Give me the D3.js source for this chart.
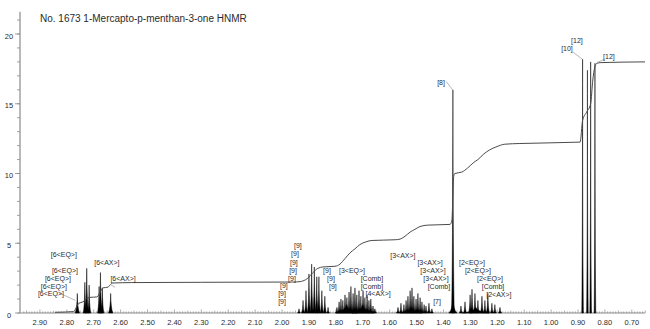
<!DOCTYPE html>
<html>
<head>
<meta charset="utf-8">
<script src="https://cdn.jsdelivr.net/npm/d3@7"></script>
<style>
  html, body { margin: 0; padding: 0; background: #ffffff; }
  svg { display: block; }
  text { font-family: "Liberation Sans", Arial, sans-serif; }
</style>
</head>
<body>
<svg id="chart" width="650" height="329"></svg>
<script>
// ---------------- DATA ----------------
const title = "No. 1673 1-Mercapto-p-menthan-3-one HNMR";

const xTickLabels = ["2.90","2.80","2.70","2.60","2.50","2.40","2.30","2.20","2.10","2.00","1.90","1.80","1.70","1.60","1.50","1.40","1.30","1.20","1.10","1.00","0.90","0.80","0.70"];
const yTickLabels = ["0","5","10","15","20"];

// peak lines: chemical shift (ppm), height, half-width at base (ppm)
const peakPpm = [
  // H6 group
  2.761, 2.733, 2.726, 2.717, 2.680, 2.675, 2.668, 2.637,
  // 1.9 multiplet
  1.937, 1.922, 1.911, 1.900, 1.890, 1.880, 1.871, 1.863, 1.852, 1.841, 1.829,
  // 1.75 group
  1.796, 1.788, 1.781, 1.774, 1.766, 1.759, 1.751, 1.744, 1.736, 1.729, 1.722, 1.714, 1.707, 1.699, 1.692, 1.684, 1.677, 1.670, 1.662, 1.655,
  1.760, 1.700,
  // 1.5 group
  1.569, 1.558, 1.547, 1.539, 1.532, 1.524, 1.517, 1.510, 1.502, 1.495, 1.487, 1.480, 1.472, 1.465, 1.454, 1.443,
  1.520,
  // [8]
  1.365, 1.365,
  // 1.3-1.2 group
  1.335, 1.320, 1.301, 1.294, 1.283, 1.272, 1.257, 1.246, 1.235, 1.220, 1.209, 1.190,
  1.280,
  // methyls
  0.883, 0.865, 0.853, 0.837
];
const peakHeight = [
  1.40, 2.20, 3.20, 2.00, 1.90, 2.90, 1.80, 1.40,
  0.30, 0.90, 1.60, 2.80, 3.50, 3.30, 2.60, 2.60, 1.60, 1.20, 0.40,
  0.40, 0.80, 1.00, 0.90, 1.30, 1.10, 1.50, 1.90, 1.40, 1.80, 1.30, 1.60, 1.20, 1.60, 1.10, 1.30, 0.90, 1.00, 0.50, 0.30,
  0.60, 0.60,
  0.40, 0.70, 0.60, 0.90, 1.20, 1.60, 1.80, 1.20, 1.00, 1.40, 1.10, 0.80, 0.60, 0.50, 0.70, 0.30,
  0.40,
  16.0, 1.0,
  0.50, 0.80, 1.30, 1.70, 1.40, 0.90, 1.20, 0.90, 1.40, 0.70, 0.60, 0.40,
  0.40,
  18.2, 17.4, 18.0, 17.9
];
const peakWidth = [
  0.008, 0.006, 0.007, 0.006, 0.006, 0.007, 0.006, 0.008,
  0.005, 0.006, 0.006, 0.006, 0.006, 0.006, 0.006, 0.006, 0.006, 0.006, 0.005,
  0.006, 0.006, 0.006, 0.006, 0.006, 0.006, 0.006, 0.006, 0.006, 0.006, 0.006, 0.006, 0.006, 0.006, 0.006, 0.006, 0.006, 0.006, 0.006, 0.006,
  0.040, 0.040,
  0.006, 0.006, 0.006, 0.006, 0.006, 0.006, 0.006, 0.006, 0.006, 0.006, 0.006, 0.006, 0.006, 0.006, 0.006, 0.005,
  0.040,
  0.005, 0.015,
  0.006, 0.006, 0.006, 0.006, 0.006, 0.006, 0.006, 0.006, 0.006, 0.006, 0.006, 0.006,
  0.050,
  0.003, 0.003, 0.003, 0.003
];

// integral curve: ppm and cumulative value
const integralPpm = [2.844, 2.774, 2.765, 2.755, 2.740, 2.728, 2.714, 2.688, 2.676, 2.666, 2.647, 2.640, 2.629, 2.560, 2.300, 1.960, 1.933, 1.922, 1.904, 1.885, 1.867, 1.848, 1.803, 1.785, 1.766, 1.748, 1.729, 1.711, 1.688, 1.666, 1.580, 1.561, 1.543, 1.524, 1.506, 1.487, 1.458, 1.376, 1.369, 1.362, 1.358, 1.332, 1.310, 1.287, 1.272, 1.250, 1.228, 1.205, 1.172, 1.116, 0.892, 0.883, 0.868, 0.853, 0.845, 0.838, 0.830, 0.815, 0.651];
const integralVal = [0.05, 0.10, 0.40, 0.70, 0.80, 1.00, 1.12, 1.15, 1.50, 1.80, 1.85, 2.00, 2.15, 2.18, 2.20, 2.22, 2.25, 2.30, 2.50, 2.90, 3.20, 3.30, 3.35, 3.50, 3.90, 4.30, 4.60, 4.90, 5.10, 5.20, 5.25, 5.30, 5.50, 5.80, 6.00, 6.20, 6.30, 6.35, 6.60, 9.80, 10.00, 10.10, 10.40, 10.80, 11.00, 11.40, 11.70, 11.90, 12.10, 12.15, 12.25, 13.80, 14.40, 15.00, 16.70, 17.60, 17.90, 17.95, 18.00];

// annotation labels with their anchor (ppm, value)
const labelText = [
  "[6<EQ>]", "[6<EQ>]", "[6<EQ>]", "[6<EQ>]", "[6<EQ>]", "[6<AX>]", "[6<AX>]",
  "[9]", "[9]", "[9]", "[9]", "[9]", "[9]", "[9]", "[9]", "[9]", "[9]", "[9]",
  "[3<EQ>]", "[Comb]", "[Comb]", "[4<AX>]",
  "[3<AX>]", "[3<AX>]", "[3<AX>]", "[3<AX>]", "[Comb]", "[7]",
  "[2<EQ>]", "[2<EQ>]", "[2<EQ>]", "[Comb]", "[2<AX>]",
  "[8]", "[10]", "[12]", "[12]"
];
const labelPpm = [
  2.811, 2.807, 2.833, 2.848, 2.859, 2.651, 2.591,
  1.941, 1.952, 1.956, 1.959, 1.963, 1.993, 2.000, 2.000, 1.833, 1.818, 1.811,
  1.740, 1.666, 1.666, 1.643,
  1.551, 1.450, 1.439, 1.428, 1.417, 1.424,
  1.294, 1.272, 1.227, 1.216, 1.194,
  1.409, 0.941, 0.904, 0.785
];
const labelVal = [
  4.21, 3.07, 2.50, 1.93, 1.43, 3.64, 2.50,
  4.86, 4.29, 3.64, 3.07, 2.50, 2.00, 1.43, 0.86, 3.07, 2.50, 1.93,
  3.07, 2.50, 1.93, 1.43,
  4.14, 3.64, 3.07, 2.50, 1.93, 0.79,
  3.64, 3.07, 2.50, 1.93, 1.36,
  16.5, 18.93, 19.50, 18.36
];

// leader lines from labels to peaks: [ppm1, val1, ppm2, val2]
const leaderFromPpm = [2.830, 2.620, 1.390, 0.919, 0.800];
const leaderFromVal = [1.45, 1.85, 16.60, 18.70, 18.20];
const leaderToPpm   = [2.768, 2.640, 1.366, 0.884, 0.829];
const leaderToVal   = [0.90, 2.05, 16.00, 18.20, 17.95];

// ---------------- DRAW ----------------
const svg = d3.select("#chart");
const x = d3.scaleLinear().domain([2.974, 0.651]).range([20, 645]);
const y = d3.scaleLinear().domain([0, 20]).range([313, 34]);

const axisColor = "#8a8a8a";
const textColor = "#2a2a2a";

// title
svg.append("text")
  .attr("x", 40).attr("y", 22)
  .attr("font-size", 10)
  .attr("fill", textColor)
  .text(title);

// y axis
const yAxisG = svg.append("g");
yAxisG.append("line")
  .attr("x1", 20).attr("x2", 20)
  .attr("y1", y(21.6)).attr("y2", y(0))
  .attr("stroke", axisColor).attr("stroke-width", 1.2);
const yMinor = d3.range(0, 22, 1);
yAxisG.selectAll("line.minor").data(yMinor).join("line")
  .attr("class", "minor")
  .attr("x1", 17).attr("x2", 20)
  .attr("y1", d => y(d)).attr("y2", d => y(d))
  .attr("stroke", axisColor).attr("stroke-width", 0.8);
yAxisG.selectAll("line.major").data(yTickLabels).join("line")
  .attr("class", "major")
  .attr("x1", 15).attr("x2", 20)
  .attr("y1", d => y(+d)).attr("y2", d => y(+d))
  .attr("stroke", axisColor).attr("stroke-width", 0.8);
yAxisG.selectAll("text").data(yTickLabels).join("text")
  .attr("x", 9).attr("y", d => y(+d) + 4.5)
  .attr("text-anchor", "middle")
  .attr("font-size", 7.5)
  .attr("fill", textColor)
  .text(d => d);

// x axis
const xAxisG = svg.append("g");
xAxisG.append("line")
  .attr("x1", 20).attr("x2", 645)
  .attr("y1", y(0)).attr("y2", y(0))
  .attr("stroke", axisColor).attr("stroke-width", 1.2);
const xMinor = d3.range(65, 297, 1).map(d => d / 100);
xAxisG.selectAll("line.minor").data(xMinor).join("line")
  .attr("class", "minor")
  .attr("x1", d => x(d)).attr("x2", d => x(d))
  .attr("y1", y(0)).attr("y2", d => y(0) - (Math.round(d * 100) % 10 === 0 ? 3.5 : (Math.round(d * 100) % 5 === 0 ? 2.5 : 1.6)))
  .attr("stroke", axisColor).attr("stroke-width", 0.7);
xAxisG.selectAll("text").data(xTickLabels).join("text")
  .attr("x", d => x(+d)).attr("y", y(0) + 12)
  .attr("text-anchor", "middle")
  .attr("font-size", 7.5)
  .attr("fill", textColor)
  .text(d => d);

// peaks
const peaks = peakPpm.map((p, i) => ({ p, h: peakHeight[i], w: peakWidth[i] }));
svg.append("g").selectAll("path").data(peaks).join("path")
  .attr("d", d => {
    const b = y(0);
    const xl = x(d.p + d.w), xr = x(d.p - d.w), xc = x(d.p);
    const xml = x(d.p + d.w * 0.12), xmr = x(d.p - d.w * 0.12);
    const ym = y(d.h * 0.22), yt = y(d.h);
    return `M${xl},${b} Q${xml},${ym} ${xc},${yt} Q${xmr},${ym} ${xr},${b} Z`;
  })
  .attr("fill", "#000")
  .attr("stroke", "#000")
  .attr("stroke-width", 0.5)
  .attr("stroke-linejoin", "round");

// integral curve
const integ = integralPpm.map((p, i) => [p, integralVal[i]]);
svg.append("path")
  .datum(integ)
  .attr("d", d3.line().x(d => x(d[0])).y(d => y(d[1])).curve(d3.curveMonotoneX))
  .attr("fill", "none")
  .attr("stroke", "#4a4a4a")
  .attr("stroke-width", 1);

// leader lines
svg.append("g").selectAll("line").data(leaderFromPpm.map((p, i) => i)).join("line")
  .attr("x1", i => x(leaderFromPpm[i])).attr("y1", i => y(leaderFromVal[i]))
  .attr("x2", i => x(leaderToPpm[i])).attr("y2", i => y(leaderToVal[i]))
  .attr("stroke", "#9a9a9a").attr("stroke-width", 0.7);

// labels
svg.append("g").selectAll("text").data(labelText.map((t, i) => i)).join("text")
  .attr("x", i => x(labelPpm[i])).attr("y", i => y(labelVal[i]) + 2.5)
  .attr("text-anchor", "middle")
  .attr("font-size", 7)
  .attr("fill", textColor)
  .text(i => labelText[i]);
</script>
</body>
</html>
